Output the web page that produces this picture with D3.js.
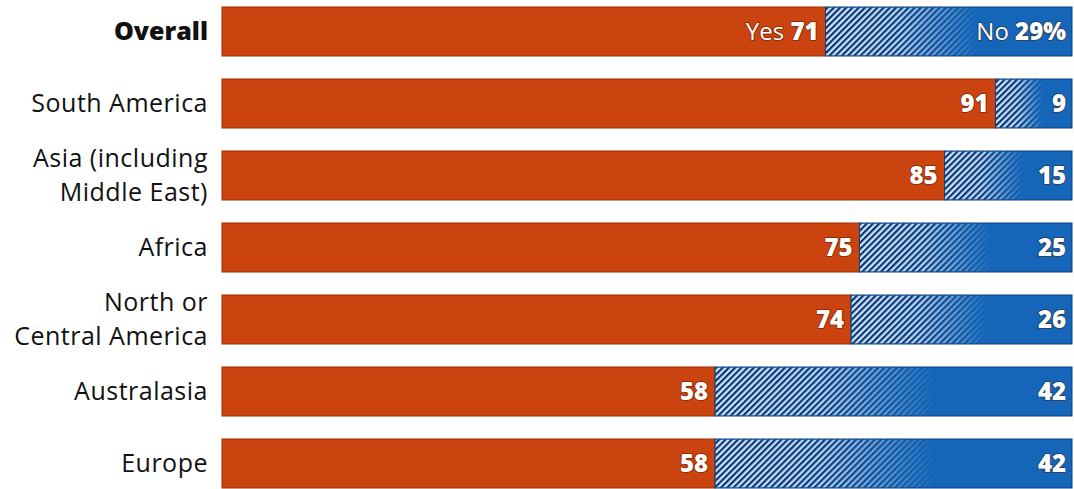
<!DOCTYPE html>
<html>
<head>
<meta charset="utf-8">
<script src="https://cdn.jsdelivr.net/npm/d3@7"></script>
<style>
  html, body { margin: 0; padding: 0; background: #fff; }
  svg { display: block; font-family: "Open Sans", Roboto, sans-serif; }
</style>
</head>
<body>
<svg id="chart" width="1074" height="489"></svg>
<script>
// regions, top to bottom ("|" splits a label over two lines)
var categories = ["Overall", "South America", "Asia (including|Middle East)", "Africa",
                  "North or|Central America", "Australasia", "Europe"];
var yesValues = [71, 91, 85, 75, 74, 58, 58];
var noValues  = [29, 9, 15, 25, 26, 42, 42];

var svg = d3.select("#chart");

var x = d3.scaleLinear().domain([0, 100]).range([222, 1072]);
var y = d3.scaleBand().domain(categories).range([7, 488]).paddingInner(23 / 72).paddingOuter(0);

var rows = categories.map(function(c, i) {
    return { key: i, cat: c, yes: yesValues[i], no: noValues[i] };
});

// hatch pattern + fade mask for the "No" part
var defs = svg.append("defs");
var pat = defs.append("pattern")
    .attr("id", "hatch")
    .attr("patternUnits", "userSpaceOnUse")
    .attr("width", 4.4).attr("height", 4.4)
    .attr("patternTransform", "rotate(45)");
pat.append("rect").attr("width", 4.4).attr("height", 4.4).attr("fill", "#cbe7fb");
pat.append("rect").attr("width", 2.1).attr("height", 4.4).attr("fill", "#0b2f6c");

var grad = defs.append("linearGradient").attr("id", "fadeGrad")
    .attr("x1", 0).attr("x2", 1).attr("y1", 0).attr("y2", 0);
grad.append("stop").attr("offset", 0).attr("stop-color", "#fff").attr("stop-opacity", 1);
grad.append("stop").attr("offset", 0.3).attr("stop-color", "#fff").attr("stop-opacity", 0.85);
grad.append("stop").attr("offset", 0.62).attr("stop-color", "#fff").attr("stop-opacity", 0);

var mask = defs.append("mask").attr("id", "fade")
    .attr("maskContentUnits", "objectBoundingBox");
mask.append("rect").attr("width", 1).attr("height", 1).attr("fill", "url(#fadeGrad)");

var bars = svg.append("g").attr("id", "bars");

// yes
bars.selectAll("rect.yes")
    .data(rows)
    .enter()
    .append("rect")
    .attr("class", "yes")
    .attr("x", x(0))
    .attr("y", function(d){ return y(d.cat); })
    .attr("width", function(d){ return x(d.yes) - x(0); })
    .attr("height", y.bandwidth())
    .attr("fill", "#cb430f")
    .attr("stroke", "#9b2e08")
    .attr("stroke-width", 1);

// no, solid
bars.selectAll("rect.no")
    .data(rows)
    .enter()
    .append("rect")
    .attr("class", "no")
    .attr("x", function(d){ return x(d.yes); })
    .attr("y", function(d){ return y(d.cat); })
    .attr("width", function(d){ return x(d.yes + d.no) - x(d.yes); })
    .attr("height", y.bandwidth())
    .attr("fill", "#1566b9")
    .attr("stroke", "#0d3f7c")
    .attr("stroke-width", 1);

// no, hatched overlay fading out to the right
bars.selectAll("rect.hatch")
    .data(rows)
    .enter()
    .append("rect")
    .attr("class", "hatch")
    .attr("x", function(d){ return x(d.yes) + 0.5; })
    .attr("y", function(d){ return y(d.cat) + 0.5; })
    .attr("width", function(d){ return x(d.yes + d.no) - x(d.yes) - 1; })
    .attr("height", y.bandwidth() - 1)
    .attr("fill", "url(#hatch)")
    .attr("mask", "url(#fade)");

// category labels
var labels = svg.append("g").attr("id", "labels");
labels.selectAll("text")
    .data(rows)
    .enter()
    .append("text")
    .attr("x", 208)
    .attr("y", function(d){ return y(d.cat) + y.bandwidth() / 2; })
    .attr("text-anchor", "end")
    .attr("font-size", 25)
    .attr("letter-spacing", function(d){ return d.key === 0 ? 0 : 0.5; })
    .attr("font-weight", function(d){ return d.key === 0 ? 800 : 400; })
    .attr("fill", "#111")
    .each(function(d) {
        var parts = d.cat.split("|");
        var t = d3.select(this);
        parts.forEach(function(p, j) {
            t.append("tspan")
                .attr("x", 208)
                .attr("dy", j === 0 ? (parts.length === 1 ? "0.35em" : "-0.33em") : "1.36em")
                .text(p);
        });
    });

// value labels
var vals = svg.append("g").attr("id", "values")
    .attr("font-size", 24)
    .attr("fill", "#fff")
    .attr("stroke", "rgba(60,20,0,0.45)")
    .attr("stroke-width", 2)
    .attr("paint-order", "stroke")
    .attr("stroke-linejoin", "round");

vals.selectAll("text.yesv")
    .data(rows)
    .enter()
    .append("text")
    .attr("class", "yesv")
    .attr("x", function(d){ return x(d.yes) - 7; })
    .attr("y", function(d){ return y(d.cat) + y.bandwidth() / 2; })
    .attr("dy", "0.35em")
    .attr("text-anchor", "end")
    .each(function(d) {
        var t = d3.select(this);
        if (d.key === 0) t.append("tspan").attr("font-weight", 400).text("Yes ");
        t.append("tspan").attr("font-weight", 800).text(d.yes);
    });

vals.selectAll("text.nov")
    .data(rows)
    .enter()
    .append("text")
    .attr("class", "nov")
    .attr("x", function(d){ return x(d.yes + d.no) - 6; })
    .attr("y", function(d){ return y(d.cat) + y.bandwidth() / 2; })
    .attr("dy", "0.35em")
    .attr("text-anchor", "end")
    .each(function(d) {
        var t = d3.select(this);
        if (d.key === 0) t.append("tspan").attr("font-weight", 400).text("No ");
        t.append("tspan").attr("font-weight", 800).text(d.key === 0 ? d.no + "%" : d.no);
    });
</script>
</body>
</html>
